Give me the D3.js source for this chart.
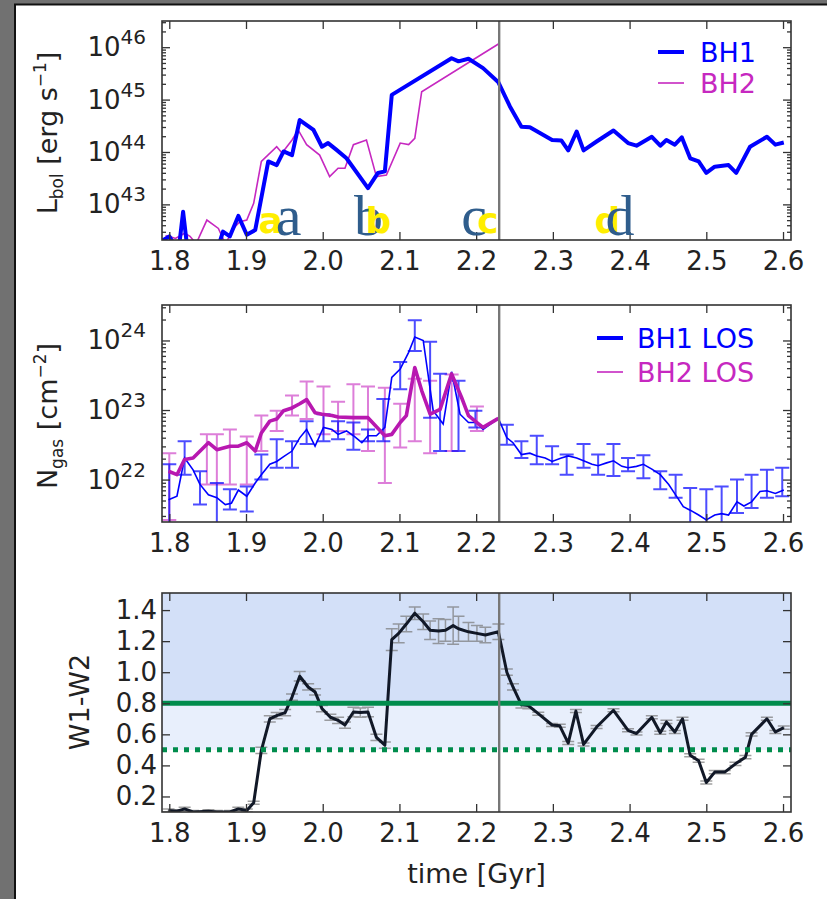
<!DOCTYPE html>
<html>
<head>
<meta charset="utf-8">
<script src="https://cdn.jsdelivr.net/npm/d3@7"></script>
<style>
  body { margin: 0; background: #717171; }
  svg { display: block; font-family: "DejaVu Sans", sans-serif; }
</style>
</head>
<body>
<svg id="fig" width="827" height="899"></svg>
<script>
// ---------- data ----------
const timeTicks = [1.8, 1.9, 2.0, 2.1, 2.2, 2.3, 2.4, 2.5, 2.6];
const mergerTime = 2.23;

// Bolometric luminosity, log10(L / erg s^-1)
const bh1Time = [1.790,1.800,1.812,1.818,1.824,1.840,1.864,1.870,1.879,1.890,1.901,1.912,1.929,1.940,1.949,1.960,1.970,1.988,1.999,2.007,2.018,2.031,2.059,2.072,2.081,2.090,2.168,2.177,2.190,2.209,2.229,2.244,2.259,2.270,2.299,2.311,2.320,2.331,2.340,2.357,2.379,2.398,2.409,2.429,2.440,2.448,2.459,2.468,2.479,2.490,2.500,2.511,2.529,2.539,2.557,2.579,2.590,2.601];
const bh1LogL = [42.30,42.39,42.10,42.86,42.10,42.00,42.20,42.48,42.39,42.78,42.42,42.51,43.82,43.75,44.01,43.94,44.61,44.42,44.10,44.17,44.04,43.88,43.31,43.60,43.63,45.09,45.79,45.73,45.78,45.60,45.33,44.87,44.48,44.47,44.23,44.22,44.03,44.39,44.03,44.20,44.41,44.17,44.12,44.29,44.12,44.23,44.14,44.28,43.88,43.82,43.60,43.72,43.75,43.60,44.10,44.29,44.14,44.18];
const bh2Time = [1.795,1.800,1.808,1.820,1.827,1.835,1.849,1.864,1.873,1.886,1.892,1.901,1.910,1.920,1.940,1.947,1.960,1.968,1.979,1.996,2.009,2.020,2.029,2.040,2.057,2.070,2.083,2.101,2.112,2.120,2.129,2.229];
const bh2LogL = [42.40,42.39,42.35,42.45,42.39,42.25,42.70,42.54,42.25,42.58,42.67,42.70,43.02,43.82,44.10,43.98,44.23,44.42,44.14,43.94,43.53,43.69,43.69,44.14,44.23,43.53,43.56,44.17,44.14,44.26,45.15,46.06];

// Gas column density along the line of sight, log10(N / cm^-2)
const los1Time = [1.799,1.810,1.820,1.831,1.840,1.851,1.862,1.873,1.881,1.890,1.901,1.912,1.920,1.931,1.940,1.949,1.960,1.970,1.979,1.990,2.001,2.012,2.020,2.031,2.040,2.051,2.059,2.070,2.081,2.090,2.101,2.112,2.120,2.131,2.144,2.157,2.168,2.179,2.190,2.201,2.209,2.229,2.240,2.248,2.259,2.270,2.279,2.290,2.299,2.311,2.320,2.331,2.340,2.351,2.359,2.370,2.379,2.390,2.398,2.409,2.418,2.429,2.440,2.451,2.460,2.470,2.479,2.490,2.500,2.511,2.520,2.529,2.540,2.549,2.559,2.570,2.579,2.590,2.601];
const los1LogN = [21.71,21.76,22.31,22.14,21.93,21.78,21.74,21.64,21.66,21.85,21.76,21.95,22.07,22.22,22.26,22.33,22.41,22.60,22.72,22.48,22.75,22.72,22.65,22.70,22.63,22.53,22.63,22.63,22.75,23.47,23.59,23.83,24.05,24.00,22.99,22.80,23.55,22.94,22.82,22.82,22.72,22.88,22.60,22.53,22.36,22.38,22.34,22.31,22.26,22.31,22.34,22.31,22.27,22.22,22.20,22.24,22.27,22.19,22.17,22.19,22.22,22.15,22.07,21.93,21.78,21.61,21.56,21.49,21.42,21.49,21.51,21.49,21.68,21.62,21.68,21.83,21.84,21.80,21.85];
const los1ErrTime = [1.800,1.820,1.840,1.862,1.879,1.901,1.920,1.940,1.960,1.979,2.001,2.020,2.040,2.059,2.079,2.101,2.120,2.140,2.153,2.177,2.199,2.240,2.259,2.279,2.299,2.318,2.340,2.359,2.379,2.398,2.418,2.440,2.460,2.479,2.500,2.520,2.540,2.559,2.579,2.599];
const los1ErrLow = [21.30,22.07,21.64,21.35,21.57,21.54,22.00,22.17,22.17,22.51,22.55,22.58,22.43,22.55,22.55,23.30,23.85,22.89,22.41,22.41,22.75,22.50,22.31,22.22,22.22,22.07,22.17,22.07,22.05,22.12,22.02,21.86,21.74,21.35,21.35,21.35,21.52,21.59,21.74,21.76];
const los1ErrHigh = [22.22,22.55,22.12,21.95,21.86,21.90,22.36,22.58,22.55,22.84,22.94,22.84,22.82,22.72,23.16,23.69,24.29,23.98,23.52,23.42,22.99,22.79,22.55,22.63,22.48,22.36,22.51,22.36,22.51,22.31,22.35,22.12,22.07,21.88,21.86,21.90,22.00,22.07,22.14,22.17];

const los2Time = [1.799,1.810,1.820,1.831,1.851,1.862,1.879,1.890,1.901,1.912,1.920,1.931,1.940,1.949,1.960,1.970,1.979,1.990,1.999,2.012,2.020,2.040,2.059,2.070,2.081,2.090,2.101,2.109,2.120,2.129,2.140,2.153,2.168,2.181,2.190,2.201,2.209,2.229];
const los2LogN = [22.12,22.07,22.29,22.31,22.53,22.43,22.48,22.48,22.53,22.41,22.67,22.84,22.87,22.99,23.03,23.09,23.15,22.96,22.94,22.92,22.90,22.89,22.89,22.76,22.63,22.65,22.82,22.92,23.61,23.28,22.94,23.01,23.52,23.18,22.92,22.82,22.75,22.88];
const los2ErrTime = [1.800,1.849,1.862,1.879,1.901,1.920,1.940,1.960,1.979,2.001,2.020,2.040,2.059,2.081,2.101,2.120,2.140,2.168,2.201];
const los2ErrLow = [21.42,21.93,21.93,21.93,21.93,22.41,22.70,22.92,22.87,22.65,22.70,22.65,22.41,21.95,22.46,22.55,22.38,22.41,22.70];
const los2ErrHigh = [22.38,22.65,22.65,22.72,22.62,22.92,22.99,23.21,23.41,23.34,23.12,23.37,23.34,23.32,23.09,23.45,23.42,23.51,23.05];

// WISE colour W1-W2
const wTime = [1.799,1.810,1.820,1.831,1.851,1.862,1.879,1.890,1.901,1.910,1.920,1.931,1.940,1.951,1.960,1.970,1.981,1.990,1.999,2.010,2.020,2.029,2.040,2.049,2.059,2.070,2.081,2.090,2.099,2.109,2.120,2.131,2.140,2.151,2.160,2.170,2.177,2.190,2.201,2.212,2.229,2.240,2.248,2.259,2.268,2.281,2.299,2.309,2.320,2.330,2.340,2.357,2.379,2.398,2.409,2.429,2.440,2.448,2.459,2.469,2.479,2.490,2.500,2.511,2.524,2.538,2.551,2.559,2.579,2.590,2.601];
const wColor = [0.11,0.105,0.12,0.10,0.105,0.10,0.10,0.12,0.11,0.16,0.497,0.70,0.72,0.74,0.84,0.974,0.905,0.873,0.766,0.71,0.69,0.66,0.744,0.74,0.744,0.58,0.53,1.21,1.25,1.31,1.38,1.325,1.27,1.265,1.27,1.30,1.28,1.26,1.25,1.24,1.26,1.00,0.905,0.79,0.785,0.733,0.66,0.655,0.544,0.75,0.535,0.647,0.755,0.626,0.605,0.71,0.61,0.68,0.615,0.70,0.465,0.43,0.29,0.357,0.357,0.41,0.453,0.60,0.70,0.615,0.643];
const wErr = [0.01,0.01,0.01,0.01,0.01,0.01,0.01,0.01,0.01,0.01,0.02,0.02,0.02,0.02,0.02,0.03,0.02,0.02,0.02,0.02,0.02,0.02,0.03,0.03,0.03,0.02,0.02,0.07,0.06,0.05,0.04,0.05,0.06,0.08,0.07,0.12,0.08,0.06,0.05,0.05,0.05,0.02,0.02,0.02,0.02,0.01,0.01,0.01,0.01,0.01,0.01,0.01,0.01,0.01,0.01,0.01,0.01,0.01,0.01,0.01,0.01,0.01,0.01,0.01,0.01,0.01,0.01,0.01,0.01,0.01,0.01];
const wThresholdHigh = 0.8;
const wThresholdLow = 0.5;

// stage labels
const stageNames = ["a", "b", "c", "d"];
const stageTime = [1.9555, 2.0596, 2.1972, 2.3876];
const stageShadowTime = [1.932, 2.0726, 2.2155, 2.371];
const stageShadowOnTop = [false, true, true, false];

// ---------- layout ----------
const W = 827, H = 899;
const plotLeft = 162, plotRight = 791;
const panels = [
  { top: 21, bottom: 240 },
  { top: 305, bottom: 522 },
  { top: 593, bottom: 812 }
];

const C_BLUE = "#0000ff";
const C_MAG = "#c628c0";
const C_AXIS = "#333333";

const svg = d3.select("#fig");

// page background with dark border
svg.append("rect").attr("width", W).attr("height", H).attr("fill", "#717171");
svg.append("rect").attr("x", 14).attr("y", 3.5).attr("width", W - 14).attr("height", H - 3.5).attr("fill", "#111");
svg.append("rect").attr("x", 16).attr("y", 5.5).attr("width", W - 16).attr("height", H - 5.5).attr("fill", "#fff");

const x = d3.scaleLinear().domain([1.7905, 2.6104]).range([plotLeft, plotRight]);
const y1 = d3.scaleLog().domain([Math.pow(10, 42.32), Math.pow(10, 46.5)]).range([panels[0].bottom, panels[0].top]);
const y2 = d3.scaleLog().domain([Math.pow(10, 21.39), Math.pow(10, 24.51)]).range([panels[1].bottom, panels[1].top]);
const y3 = d3.scaleLinear().domain([0.1, 1.51]).range([panels[2].bottom, panels[2].top]);

const p10 = v => Math.pow(10, v);

// clip paths
const defs = svg.append("defs");
panels.forEach((p, i) => {
  defs.append("clipPath").attr("id", "clip" + i)
    .append("rect").attr("x", plotLeft).attr("y", p.top)
    .attr("width", plotRight - plotLeft).attr("height", p.bottom - p.top);
});

function styleAxis(g) {
  g.select(".domain").remove();
  g.selectAll(".tick line").attr("stroke", C_AXIS).attr("stroke-width", 1.3);
  g.selectAll(".tick text").attr("fill", "#222").style("font-size", "26px").style("font-family", "DejaVu Sans");
}

function drawTimeAxes(p) {
  svg.append("g").attr("transform", `translate(0,${p.bottom})`)
    .call(d3.axisBottom(x).tickValues(timeTicks).tickSize(-8).tickPadding(12).tickFormat(d3.format(".1f")))
    .call(styleAxis);
  svg.append("g").attr("transform", `translate(0,${p.top})`)
    .call(d3.axisTop(x).tickValues(timeTicks).tickSize(-8).tickFormat(""))
    .call(styleAxis);
}

function drawLogAxes(p, y) {
  const all = y.ticks();
  const isMajor = v => Math.abs(Math.log10(v) - Math.round(Math.log10(v))) < 1e-6;
  const major = all.filter(isMajor);
  const minor = all.filter(v => !isMajor(v));
  [[d3.axisLeft, plotLeft], [d3.axisRight, plotRight]].forEach(([ax, px]) => {
    svg.append("g").attr("transform", `translate(${px},0)`)
      .call(ax(y).tickValues(minor).tickSize(-4).tickFormat("")).call(styleAxis);
    svg.append("g").attr("transform", `translate(${px},0)`)
      .call(ax(y).tickValues(major).tickSize(-8).tickFormat("")).call(styleAxis);
  });
  major.forEach(v => {
    const t = svg.append("text").attr("x", plotLeft - 16).attr("y", y(v) + 9)
      .attr("text-anchor", "end").attr("fill", "#222").style("font-size", "26px");
    t.append("tspan").text("10");
    t.append("tspan").attr("dy", -12).style("font-size", "20px").text(Math.round(Math.log10(v)));
  });
}

function drawFrame(p) {
  svg.append("rect").attr("x", plotLeft).attr("y", p.top)
    .attr("width", plotRight - plotLeft).attr("height", p.bottom - p.top)
    .attr("fill", "none").attr("stroke", C_AXIS).attr("stroke-width", 1.6);
}

function drawMerger(p) {
  svg.append("line").attr("x1", x(mergerTime)).attr("x2", x(mergerTime))
    .attr("y1", p.top).attr("y2", p.bottom)
    .attr("stroke", "#777").attr("stroke-width", 2.4);
}

function errorBars(g, ts, lo, hi, y, color, width, opacity, cap) {
  const d = ts.map((t, i) => {
    const cx = x(t), a = y(lo[i]), b = y(hi[i]);
    return `M${cx},${a}V${b}M${cx - cap},${a}H${cx + cap}M${cx - cap},${b}H${cx + cap}`;
  }).join("");
  g.append("path").attr("d", d).attr("fill", "none")
    .attr("stroke", color).attr("stroke-width", width).attr("opacity", opacity);
}

// ---------- panel 1: luminosity ----------
{
  const p = panels[0];
  const g = svg.append("g").attr("clip-path", "url(#clip0)");
  const line = d3.line().x(d => x(d[0])).y(d => y1(p10(d[1])));
  g.append("path").datum(d3.zip(bh2Time, bh2LogL)).attr("d", line)
    .attr("fill", "none").attr("stroke", C_MAG).attr("stroke-width", 1.6);
  g.append("path").datum(d3.zip(bh1Time, bh1LogL)).attr("d", line)
    .attr("fill", "none").attr("stroke", C_BLUE).attr("stroke-width", 4).attr("stroke-linejoin", "round");

  drawMerger(p);
  drawTimeAxes(p);
  drawLogAxes(p, y1);
  drawFrame(p);

  // legend
  const lg = svg.append("g");
  lg.append("line").attr("x1", 658).attr("x2", 684).attr("y1", 52).attr("y2", 52).attr("stroke", C_BLUE).attr("stroke-width", 4);
  lg.append("text").attr("x", 700).attr("y", 62).attr("fill", C_BLUE).style("font-size", "27px").text("BH1");
  lg.append("line").attr("x1", 658).attr("x2", 684).attr("y1", 83).attr("y2", 83).attr("stroke", C_MAG).attr("stroke-width", 1.6);
  lg.append("text").attr("x", 700).attr("y", 93).attr("fill", C_MAG).style("font-size", "27px").text("BH2");

  // stage markers (blue serif letter with a yellow bold twin)
  stageNames.forEach((s, i) => {
    const shadow = () => svg.append("text").attr("x", x(stageShadowTime[i])).attr("y", 233)
      .attr("text-anchor", "middle").attr("fill", "#ffee00")
      .style("font-size", "36px").style("font-weight", "bold").text(s);
    if (!stageShadowOnTop[i]) shadow();
    svg.append("text").attr("x", x(stageTime[i])).attr("y", 235)
      .attr("text-anchor", "middle").attr("fill", "#2f5d8c")
      .style("font-family", "Liberation Serif, serif").style("font-size", "58px").text(s);
    if (stageShadowOnTop[i]) shadow();
  });

  const yl = svg.append("text").attr("transform", "translate(57,133) rotate(-90)")
    .attr("text-anchor", "middle").attr("fill", "#222").style("font-size", "27px");
  yl.append("tspan").text("L");
  yl.append("tspan").attr("dy", 6).style("font-size", "17px").text("bol");
  yl.append("tspan").attr("dy", -6).text(" [erg s");
  yl.append("tspan").attr("dy", -11).style("font-size", "17px").text("\u22121");
  yl.append("tspan").attr("dy", 11).text("]");
}

// ---------- panel 2: column density ----------
{
  const p = panels[1];
  const g = svg.append("g").attr("clip-path", "url(#clip1)");
  const line = d3.line().x(d => x(d[0])).y(d => y2(p10(d[1])));
  errorBars(g, los2ErrTime, los2ErrLow.map(p10), los2ErrHigh.map(p10), y2, C_MAG, 2, 0.6, 7);
  errorBars(g, los1ErrTime, los1ErrLow.map(p10), los1ErrHigh.map(p10), y2, C_BLUE, 2, 0.7, 7);
  g.append("path").datum(d3.zip(los1Time, los1LogN)).attr("d", line)
    .attr("fill", "none").attr("stroke", C_BLUE).attr("stroke-width", 1.6);
  g.append("path").datum(d3.zip(los2Time, los2LogN)).attr("d", line)
    .attr("fill", "none").attr("stroke", "#b818b0").attr("stroke-width", 3.6).attr("stroke-linejoin", "round");

  drawMerger(p);
  drawTimeAxes(p);
  drawLogAxes(p, y2);
  drawFrame(p);

  const lg = svg.append("g");
  lg.append("line").attr("x1", 597).attr("x2", 623).attr("y1", 338).attr("y2", 338).attr("stroke", C_BLUE).attr("stroke-width", 4);
  lg.append("text").attr("x", 637).attr("y", 348).attr("fill", C_BLUE).style("font-size", "27px").text("BH1 LOS");
  lg.append("line").attr("x1", 597).attr("x2", 623).attr("y1", 372).attr("y2", 372).attr("stroke", C_MAG).attr("stroke-width", 1.6);
  lg.append("text").attr("x", 637).attr("y", 382).attr("fill", C_MAG).style("font-size", "27px").text("BH2 LOS");

  const yl = svg.append("text").attr("transform", "translate(57,416) rotate(-90)")
    .attr("text-anchor", "middle").attr("fill", "#222").style("font-size", "27px");
  yl.append("tspan").text("N");
  yl.append("tspan").attr("dy", 6).style("font-size", "17px").text("gas");
  yl.append("tspan").attr("dy", -6).text(" [cm");
  yl.append("tspan").attr("dy", -11).style("font-size", "17px").text("\u22122");
  yl.append("tspan").attr("dy", 11).text("]");
}

// ---------- panel 3: W1-W2 colour ----------
{
  const p = panels[2];
  const g = svg.append("g").attr("clip-path", "url(#clip2)");
  g.append("rect").attr("x", plotLeft).attr("width", plotRight - plotLeft)
    .attr("y", p.top).attr("height", y3(wThresholdLow) - p.top).attr("fill", "#e8effc");
  g.append("rect").attr("x", plotLeft).attr("width", plotRight - plotLeft)
    .attr("y", p.top).attr("height", y3(wThresholdHigh) - p.top).attr("fill", "#d3e0f8");

  errorBars(g, wTime, wColor.map((v, i) => v - wErr[i]), wColor.map((v, i) => v + wErr[i]), y3, "#777", 1.5, 0.7, 6);
  g.append("path").datum(d3.zip(wTime, wColor))
    .attr("d", d3.line().x(d => x(d[0])).y(d => y3(d[1])))
    .attr("fill", "none").attr("stroke", "#111827").attr("stroke-width", 3).attr("stroke-linejoin", "round");

  g.append("line").attr("x1", plotLeft).attr("x2", plotRight)
    .attr("y1", y3(wThresholdHigh)).attr("y2", y3(wThresholdHigh))
    .attr("stroke", "#008c4c").attr("stroke-width", 5);
  g.append("line").attr("x1", plotLeft).attr("x2", plotRight)
    .attr("y1", y3(wThresholdLow)).attr("y2", y3(wThresholdLow))
    .attr("stroke", "#008c4c").attr("stroke-width", 5).attr("stroke-dasharray", "5,6");

  drawMerger(p);
  drawTimeAxes(p);
  const wTicks = [0.2, 0.4, 0.6, 0.8, 1.0, 1.2, 1.4];
  svg.append("g").attr("transform", `translate(${plotLeft},0)`)
    .call(d3.axisLeft(y3).tickValues(wTicks).tickSize(-8).tickPadding(5).tickFormat(d3.format(".1f")))
    .call(styleAxis);
  svg.append("g").attr("transform", `translate(${plotRight},0)`)
    .call(d3.axisRight(y3).tickValues(wTicks).tickSize(-8).tickFormat(""))
    .call(styleAxis);
  drawFrame(p);

  svg.append("text").attr("transform", "translate(89,702) rotate(-90)")
    .attr("text-anchor", "middle").attr("fill", "#222").style("font-size", "27px").text("W1-W2");

  svg.append("text").attr("x", (plotLeft + plotRight) / 2).attr("y", 883)
    .attr("text-anchor", "middle").attr("fill", "#222").style("font-size", "27px").text("time [Gyr]");
}
</script>
</body>
</html>
